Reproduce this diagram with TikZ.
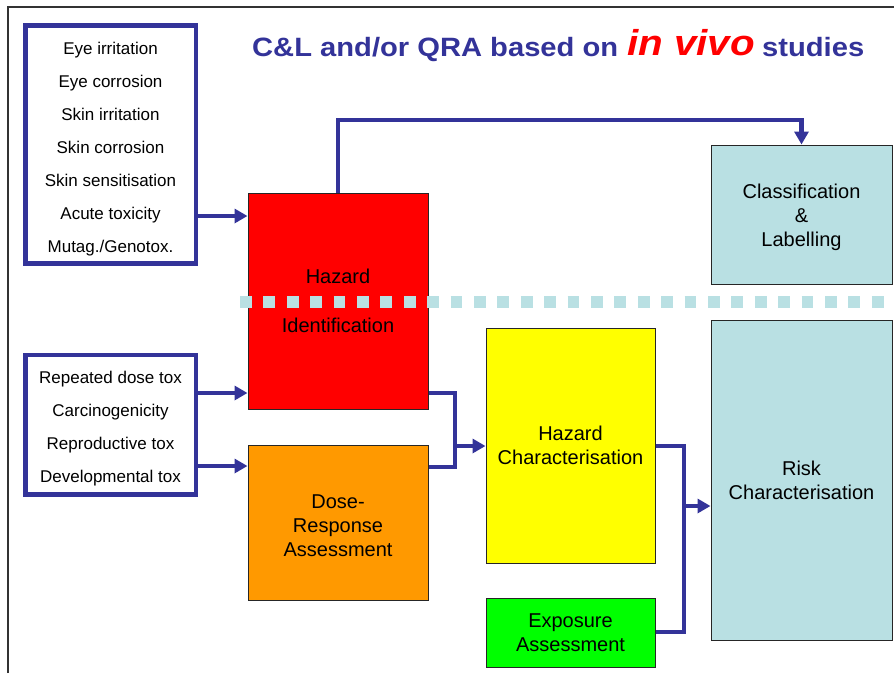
\documentclass[tikz,border=0pt]{standalone}
\usepackage{fontspec}
\setmainfont{Liberation Sans}
\newfontfamily\titlefont[FakeStretch=1.1]{Liberation Sans}
\newfontfamily\vivofont[FakeStretch=1.12]{Liberation Sans}
\usetikzlibrary{arrows.meta}
\definecolor{navy}{HTML}{333399}
\definecolor{lightteal}{HTML}{B9E0E3}
\definecolor{hzred}{HTML}{FF0000}
\definecolor{drorange}{HTML}{FF9900}
\definecolor{hcyellow}{HTML}{FFFF00}
\definecolor{exgreen}{HTML}{00FF00}
\begin{document}
\begin{tikzpicture}[x=1pt,y=-1pt,
  listbox/.style={draw=navy, line width=4.5pt, inner sep=0pt, align=center,
    font=\fontsize{17}{33}\selectfont},
  stagebox/.style={draw=black!85, line width=1pt, inner sep=0pt, align=center,
    font=\fontsize{20}{24}\selectfont},
  conn/.style={draw=navy, line width=4.2pt, line join=miter},
  arr/.style={conn, -{Triangle[length=13pt,width=14pt]}},
  frameline/.style={draw=black!80, line width=2pt}
]
\useasboundingbox (0,0) rectangle (894,673);
\fill[white] (0,0) rectangle (894,673);
\draw[frameline] (8,673) -- (8,7) -- (894,7);

% title
\node[anchor=base west, inner sep=0pt, text=navy, font=\titlefont\bfseries\fontsize{26.5}{30}\selectfont] (t1) at (252,56) {C\&L and/or QRA based on};
\node[anchor=base west, inner sep=0pt, text=hzred, font=\vivofont\bfseries\itshape\fontsize{36}{40}\selectfont] (t2) at (627,55) {in vivo};
\node[anchor=base west, inner sep=0pt, text=navy, font=\titlefont\bfseries\fontsize{26.5}{30}\selectfont] (t3) at (762,56) {studies};

% input lists
\node[listbox, minimum width=170.5pt, minimum height=237.8pt] (l1) at (110.5,144.5)
  {\rule{0pt}{22pt}Eye irritation\\Eye corrosion\\Skin irritation\\Skin corrosion\\Skin sensitisation\\Acute toxicity\\Mutag./Genotox.};
\node[listbox, minimum width=170.5pt, minimum height=139.5pt] (l2) at (110.5,424.7)
  {\rule{0pt}{20.5pt}Repeated dose tox\\Carcinogenicity\\Reproductive tox\\Developmental tox};

% stages
\node[stagebox, fill=hzred, minimum width=180pt, minimum height=216pt] (hz) at (338,301)
  {Hazard\\[25pt]Identification};
\node[stagebox, fill=drorange, minimum width=180pt, minimum height=155pt] (dr) at (338,522.5)
  {\rule{0pt}{19.5pt}Dose-\\Response\\Assessment};
\node[stagebox, fill=hcyellow, minimum width=169pt, minimum height=235pt] (hc) at (570.5,445.5)
  {Hazard\\Characterisation};
\node[stagebox, fill=exgreen, minimum width=169pt, minimum height=69pt] (ex) at (570.5,632.5)
  {Exposure\\Assessment};
\node[stagebox, fill=lightteal, minimum width=181pt, minimum height=139pt] (cl) at (801.5,214.5)
  {\rule{0pt}{20.5pt}Classification\\\&\\Labelling};
\node[stagebox, fill=lightteal, minimum width=181pt, minimum height=320pt] (rc) at (801.5,480)
  {Risk\\Characterisation};

% connectors
\draw[arr] (l1.east |- 0,216) -- (hz.west |- 0,216);
\draw[arr] (l2.east |- 0,393) -- (hz.west |- 0,393);
\draw[arr] (l2.east |- 0,466) -- (dr.west |- 0,466);
\draw[arr] (hz.north) -- (hz.north |- 0,120) -| (cl.north);

\coordinate (j1) at (455,446);
\draw[conn] (hz.east |- 0,393) -| (j1);
\draw[conn] (dr.east |- 0,467) -| (j1);
\draw[arr] (j1) -- (hc.west |- j1);

\coordinate (j2) at (684,506);
\draw[conn] (hc.east |- 0,446) -| (j2);
\draw[conn] (ex.east |- 0,632) -| (j2);
\draw[arr] (j2) -- (rc.west |- j2);

% dotted divider
\draw[lightteal, line width=11.7pt, dash pattern=on 11.7pt off 11.7pt] (240,302) -- (894,302);
\end{tikzpicture}
\end{document}
